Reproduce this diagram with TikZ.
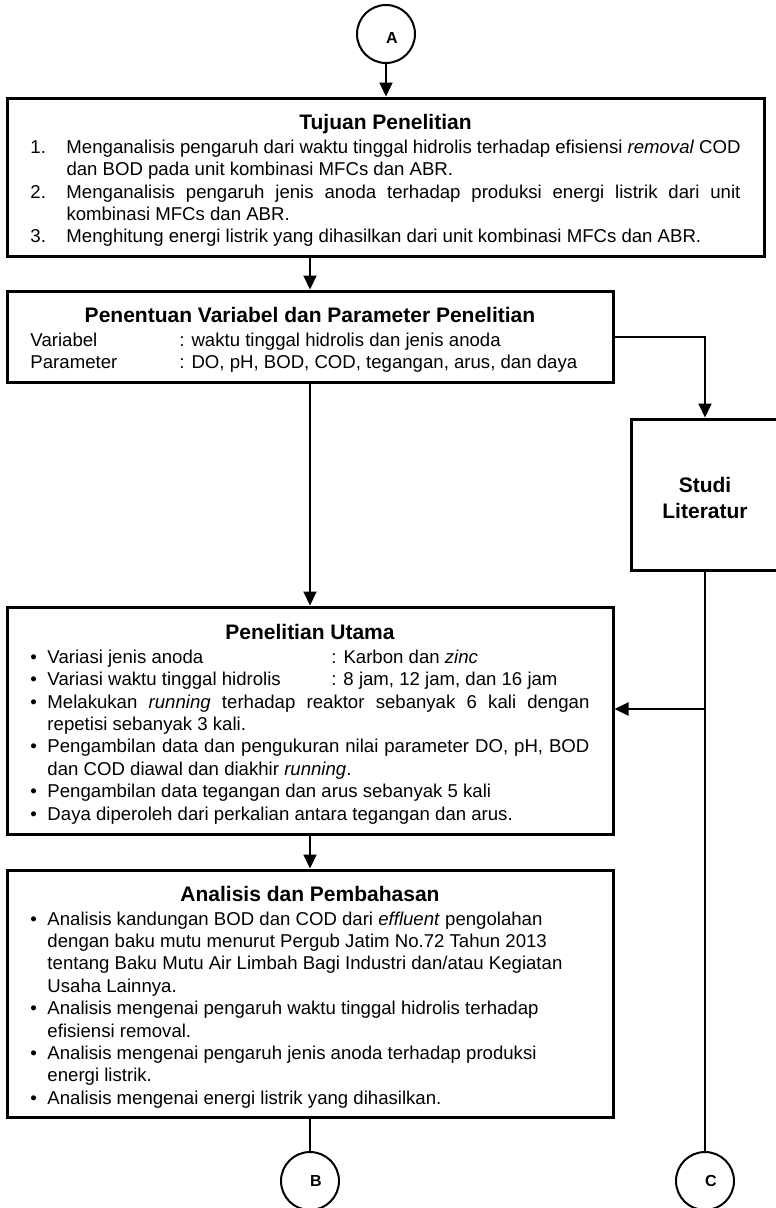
\documentclass[tikz,border=0pt]{standalone}
\usepackage{fontspec}
\setmainfont{Liberation Sans}
\usetikzlibrary{arrows.meta,calc}
\newcommand{\bodyfnt}{\fontsize{18.6}{22.4}\selectfont}
\newcommand{\ttlfnt}{\fontsize{21}{24}\selectfont\bfseries}
\newcommand{\boxtitle}[1]{{\centering\ttlfnt #1\par}\vspace{1.6pt}}
\newcommand{\nitem}[2]{\noindent\hangindent=36pt\hangafter=1\makebox[36pt][l]{#1}#2\par}
\newcommand{\bitem}[1]{\noindent\hangindent=17pt\hangafter=1\makebox[17pt][l]{\textbullet}#1\par}
\newcommand{\lowered}[1]{\raisebox{-3.5pt}[\height][\depth]{#1}}
\begin{document}
\begin{tikzpicture}[x=1pt,y=-1pt,
  box/.style={draw, line width=3pt, rectangle, inner sep=0pt, font=\bodyfnt},
  circ/.style={draw, circle, line width=2pt, minimum size=58pt, inner sep=0pt,
    font=\fontsize{16}{18}\selectfont\bfseries},
  conn/.style={line width=2pt},
  arr/.style={conn, -{Triangle[length=14pt,width=13pt]}}]
\useasboundingbox (0,0) rectangle (776,1208);
\clip (0,0) rectangle (776,1208);

\node[circ] (A) at (386,34) {\lowered{\hspace*{12pt}A}};

\node[box, minimum width=757pt, minimum height=158pt] (tujuan) at (385.5,177) {\lowered{\parbox{710pt}{%
\boxtitle{Tujuan Penelitian}
\nitem{1.}{Menganalisis pengaruh dari waktu tinggal hidrolis terhadap efisiensi \textit{removal} COD\linebreak dan BOD pada unit kombinasi MFCs dan ABR.}
\nitem{2.}{Menganalisis pengaruh jenis anoda terhadap produksi energi listrik dari unit\linebreak kombinasi MFCs dan ABR.}
\nitem{3.}{Menghitung energi listrik yang dihasilkan dari unit kombinasi MFCs dan ABR.}}}};

\node[box, minimum width=606pt, minimum height=91pt] (penentuan) at (310,336.5) {\lowered{\parbox{559pt}{%
\boxtitle{Penentuan Variabel dan Parameter Penelitian}
\noindent\makebox[149pt][l]{Variabel}: waktu tinggal hidrolis dan jenis anoda\par
\noindent\makebox[149pt][l]{Parameter}: DO, pH, BOD, COD, tegangan, arus, dan daya\par}}};

\node[box, minimum width=148pt, minimum height=151pt] (studi) at (705,494.5) {\lowered{\parbox{148pt}{\centering\fontsize{21}{26}\selectfont\bfseries Studi\\Literatur}}};

\node[box, minimum width=606pt, minimum height=227pt] (utama) at (310,720.5) {\lowered{\parbox{559pt}{%
\boxtitle{Penelitian Utama}
\bitem{\makebox[284pt][l]{Variasi jenis anoda}: Karbon dan \textit{zinc}}
\bitem{\makebox[284pt][l]{Variasi waktu tinggal hidrolis}: 8 jam, 12 jam, dan 16 jam}
\bitem{Melakukan \textit{running} terhadap reaktor sebanyak 6 kali dengan\linebreak repetisi sebanyak 3 kali.}
\bitem{Pengambilan data dan pengukuran nilai parameter DO, pH, BOD\linebreak dan COD diawal dan diakhir \textit{running}.}
\bitem{Pengambilan data tegangan dan arus sebanyak 5 kali}
\bitem{Daya diperoleh dari perkalian antara tegangan dan arus.}}}};

\node[box, minimum width=606pt, minimum height=247pt] (analisis) at (310,993.5) {\lowered{\parbox{559pt}{%
\boxtitle{Analisis dan Pembahasan}
\raggedright
\bitem{Analisis kandungan BOD dan COD dari \textit{effluent} pengolahan\newline dengan baku mutu menurut Pergub Jatim No.72 Tahun 2013\newline tentang Baku Mutu Air Limbah Bagi Industri dan/atau Kegiatan\newline Usaha Lainnya.}
\bitem{Analisis mengenai pengaruh waktu tinggal hidrolis terhadap\newline efisiensi removal.}
\bitem{Analisis mengenai pengaruh jenis anoda terhadap produksi\newline energi listrik.}
\bitem{Analisis mengenai energi listrik yang dihasilkan.}}}};

\node[circ] (B) at (310,1181) {\hspace*{12pt}B};
\node[circ] (C) at (705,1181) {\hspace*{12pt}C};

\coordinate (j) at (705,709);

\draw[arr] (A.south) -- (A.south |- tujuan.north);
\draw[arr] (tujuan.south -| penentuan.north) -- (penentuan.north);
\draw[arr] (penentuan.east) -| (studi.north);
\draw[arr] (penentuan.south) -- (utama.north);
\draw[conn] (studi.south) -- (C.north);
\draw[arr] (j) -- (j -| utama.east);
\draw[arr] (utama.south) -- (analisis.north);
\draw[conn] (analisis.south) -- (B.north);
\end{tikzpicture}
\end{document}
